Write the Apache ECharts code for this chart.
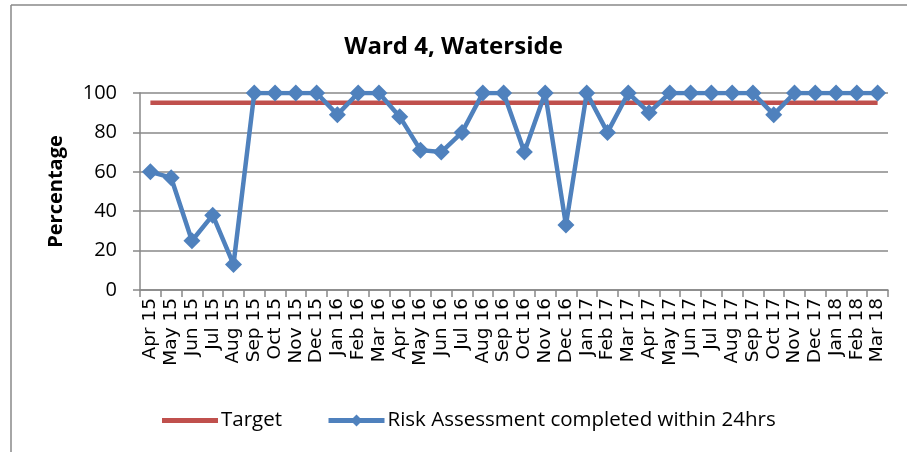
<!DOCTYPE html>
<html>
<head>
<meta charset="utf-8">
<script src="https://cdn.jsdelivr.net/npm/echarts@6/dist/echarts.min.js"></script>
<style>
  html, body { margin: 0; padding: 0; background: #fff; }
  #main { width: 907px; height: 452px; }
</style>
</head>
<body>
<div id="main"></div>
<script>
var months = ['Apr 15','May 15','Jun 15','Jul 15','Aug 15','Sep 15','Oct 15','Nov 15','Dec 15',
  'Jan 16','Feb 16','Mar 16','Apr 16','May 16','Jun 16','Jul 16','Aug 16','Sep 16','Oct 16','Nov 16','Dec 16',
  'Jan 17','Feb 17','Mar 17','Apr 17','May 17','Jun 17','Jul 17','Aug 17','Sep 17','Oct 17','Nov 17','Dec 17',
  'Jan 18','Feb 18','Mar 18'];
var riskDone = [60, 57, 25, 38, 13, 100, 100, 100, 100,
  89, 100, 100, 88, 71, 70, 80, 100, 100, 70, 100, 33,
  100, 80, 100, 90, 100, 100, 100, 100, 100, 89, 100, 100,
  100, 100, 100];
var targetValue = 95;
var target = months.map(function () { return targetValue; });

var myChart = echarts.init(document.getElementById('main'));
var option = {
  backgroundColor: '#fff',
  animation: false,
  title: {
    text: 'Ward 4, Waterside',
    left: 'center',
    top: 30,
    textStyle: { fontFamily: 'Open Sans', fontWeight: 'bold', fontSize: 24, color: '#000' }
  },
  graphic: [
    { type: 'line', shape: { x1: 11, y1: 5, x2: 11, y2: 452 }, style: { stroke: '#888', lineWidth: 1.5 } },
    { type: 'line', shape: { x1: 11, y1: 5, x2: 907, y2: 5 }, style: { stroke: '#888', lineWidth: 1.5 } }
  ],
  legend: {
    left: 157,
    top: 405,
    itemWidth: 56,
    itemHeight: 15,
    itemGap: 44,
    textStyle: { fontFamily: 'Open Sans', fontSize: 20.5, color: '#000', padding: [0, 0, 0, -2] },
    data: [
      { name: 'Target', icon: 'path://M0,0 L56,0 L56,5 L0,5 Z' },
      { name: 'Risk Assessment completed within 24hrs', lineStyle: { width: 5 } }
    ]
  },
  grid: { left: 140, right: 19, top: 93, bottom: 162 },
  xAxis: {
    type: 'category',
    data: months,
    boundaryGap: true,
    axisLine: { lineStyle: { color: '#888', width: 1.5 } },
    axisTick: { show: true, length: 7, lineStyle: { color: '#888', width: 1.5 }, interval: 0 },
    axisLabel: { interval: 0, rotate: 90, margin: 8, fontFamily: 'DejaVu Sans', fontSize: 18.5, color: '#000' }
  },
  yAxis: {
    type: 'value',
    min: 0,
    max: 100,
    interval: 20,
    name: 'Percentage',
    nameLocation: 'middle',
    nameGap: 74,
    nameTextStyle: { fontFamily: 'Open Sans', fontWeight: 'bold', fontSize: 20, color: '#000' },
    axisLine: { show: true, lineStyle: { color: '#888', width: 1.5 } },
    axisTick: { show: true, length: 7, lineStyle: { color: '#888', width: 1.5 } },
    axisLabel: { margin: 23, fontFamily: 'Open Sans', fontSize: 20, color: '#000' },
    splitLine: { lineStyle: { color: '#888', width: 1.5 } }
  },
  series: [
    {
      name: 'Target',
      type: 'line',
      data: target,
      symbol: 'none',
      lineStyle: { color: '#C0504D', width: 4.5 },
      itemStyle: { color: '#C0504D' }
    },
    {
      name: 'Risk Assessment completed within 24hrs',
      type: 'line',
      data: riskDone,
      symbol: 'diamond',
      symbolSize: 17,
      lineStyle: { color: '#4F81BD', width: 4.5 },
      itemStyle: { color: '#4F81BD' }
    }
  ]
};
myChart.setOption(option);
</script>
</body>
</html>
